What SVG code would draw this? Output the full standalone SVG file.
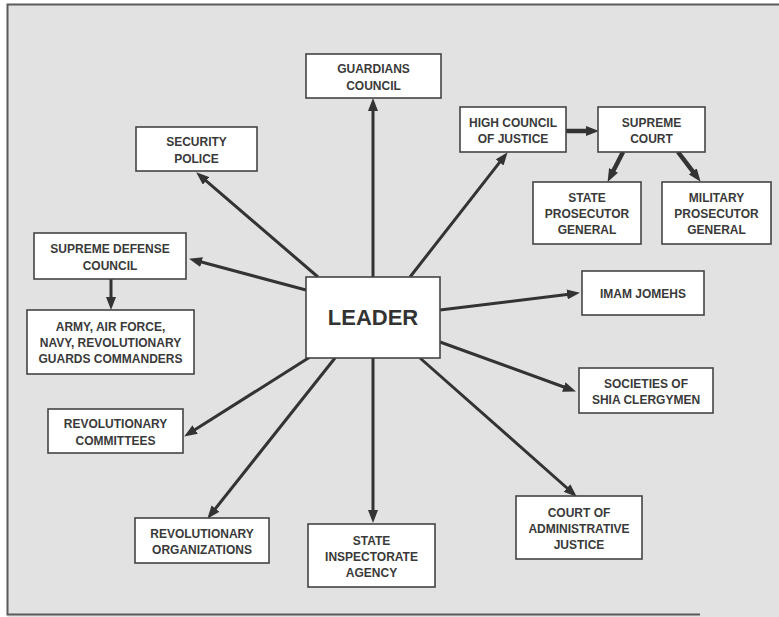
<svg xmlns="http://www.w3.org/2000/svg" width="779" height="617" viewBox="0 0 779 617">
<defs>
<style>
.bg{fill:#e2e2e2}
.frame{stroke:#5a5a5a;stroke-width:2;fill:none}
.box{fill:#ffffff;stroke:#444;stroke-width:1.6}
.t{font-family:"Liberation Sans",Arial,sans-serif;font-weight:bold;font-size:12px;fill:#3a3a3a;text-anchor:middle}
.big{font-size:22px;fill:#333}
.c{stroke:#333;stroke-width:3;fill:none;marker-end:url(#ah)}
.thick{stroke-width:4.5}
</style>
<marker id="ah" markerUnits="userSpaceOnUse" markerWidth="13" markerHeight="10" refX="6" refY="5" orient="auto">
<path d="M0,0 L13,5 L0,10 Z" fill="#333"/>
</marker>
</defs>
<rect x="0" y="0" width="779" height="617" fill="#ffffff"/>
<rect class="bg" x="7.5" y="4.5" width="772" height="613"/>
<path class="frame" d="M779,4.5 H7.5 V614.5 H700"/>

<g id="connectors">
<line class="c" x1="373" y1="277" x2="373" y2="105"/>
<line class="c" x1="318" y1="277" x2="201.5" y2="176.9"/>
<line class="c" x1="410" y1="277" x2="503.3" y2="157.7"/>
<line class="c thick" x1="566" y1="131" x2="592" y2="131"/>
<line class="c thick" x1="623" y1="152" x2="610.8" y2="175.7"/>
<line class="c thick" x1="678" y1="152" x2="696.4" y2="176.2"/>
<line class="c" x1="306" y1="290" x2="195.8" y2="260.5"/>
<line class="c" x1="111" y1="279" x2="111" y2="303"/>
<line class="c" x1="440" y1="310" x2="573" y2="293.7"/>
<line class="c" x1="440" y1="342" x2="569.4" y2="389"/>
<line class="c" x1="310" y1="357" x2="190.1" y2="432.8"/>
<line class="c" x1="335" y1="358" x2="211.7" y2="513.3"/>
<line class="c" x1="373" y1="358" x2="373" y2="516"/>
<line class="c" x1="420" y1="358" x2="571.5" y2="492"/>
</g>

<g id="guardians">
<rect class="box" x="306" y="54" width="135" height="44"/>
<text class="t" x="373.5" y="73">GUARDIANS</text>
<text class="t" x="373.5" y="89.5">COUNCIL</text>
</g>
<g id="security-police">
<rect class="box" x="136" y="127" width="121" height="44"/>
<text class="t" x="196.5" y="146">SECURITY</text>
<text class="t" x="196.5" y="162.5">POLICE</text>
</g>
<g id="high-council">
<rect class="box" x="460" y="107" width="106" height="45"/>
<text class="t" x="513" y="126.5">HIGH COUNCIL</text>
<text class="t" x="513" y="143">OF JUSTICE</text>
</g>
<g id="supreme-court">
<rect class="box" x="598" y="107" width="107" height="45"/>
<text class="t" x="651.5" y="126.5">SUPREME</text>
<text class="t" x="651.5" y="143">COURT</text>
</g>
<g id="state-prosecutor">
<rect class="box" x="533" y="182" width="108" height="62"/>
<text class="t" x="587" y="202">STATE</text>
<text class="t" x="587" y="218">PROSECUTOR</text>
<text class="t" x="587" y="234">GENERAL</text>
</g>
<g id="military-prosecutor">
<rect class="box" x="662" y="182" width="109" height="62"/>
<text class="t" x="716.5" y="202">MILITARY</text>
<text class="t" x="716.5" y="218">PROSECUTOR</text>
<text class="t" x="716.5" y="234">GENERAL</text>
</g>
<g id="supreme-defense">
<rect class="box" x="34" y="233" width="152" height="46"/>
<text class="t" x="110" y="253">SUPREME DEFENSE</text>
<text class="t" x="110" y="269.5">COUNCIL</text>
</g>
<g id="army">
<rect class="box" x="27" y="310" width="167" height="64"/>
<text class="t" x="110.5" y="331">ARMY, AIR FORCE,</text>
<text class="t" x="110.5" y="347">NAVY, REVOLUTIONARY</text>
<text class="t" x="110.5" y="363">GUARDS COMMANDERS</text>
</g>
<g id="leader">
<rect class="box" x="306" y="277" width="134" height="81"/>
<text class="t big" x="373" y="325">LEADER</text>
</g>
<g id="imam-jomehs">
<rect class="box" x="582" y="271" width="122" height="44"/>
<text class="t" x="643" y="297.5">IMAM JOMEHS</text>
</g>
<g id="societies">
<rect class="box" x="579" y="368" width="134" height="45"/>
<text class="t" x="646" y="387.5">SOCIETIES OF</text>
<text class="t" x="646" y="404">SHIA CLERGYMEN</text>
</g>
<g id="rev-committees">
<rect class="box" x="48" y="409" width="135" height="44"/>
<text class="t" x="115.5" y="428">REVOLUTIONARY</text>
<text class="t" x="115.5" y="444.5">COMMITTEES</text>
</g>
<g id="rev-organizations">
<rect class="box" x="135" y="518" width="134" height="45"/>
<text class="t" x="202" y="537.5">REVOLUTIONARY</text>
<text class="t" x="202" y="554">ORGANIZATIONS</text>
</g>
<g id="state-inspectorate">
<rect class="box" x="308" y="524" width="127" height="63"/>
<text class="t" x="371.5" y="544.5">STATE</text>
<text class="t" x="371.5" y="560.5">INSPECTORATE</text>
<text class="t" x="371.5" y="576.5">AGENCY</text>
</g>
<g id="court-admin">
<rect class="box" x="516" y="496" width="126" height="63"/>
<text class="t" x="579" y="516.5">COURT OF</text>
<text class="t" x="579" y="532.5">ADMINISTRATIVE</text>
<text class="t" x="579" y="548.5">JUSTICE</text>
</g>
</svg>
